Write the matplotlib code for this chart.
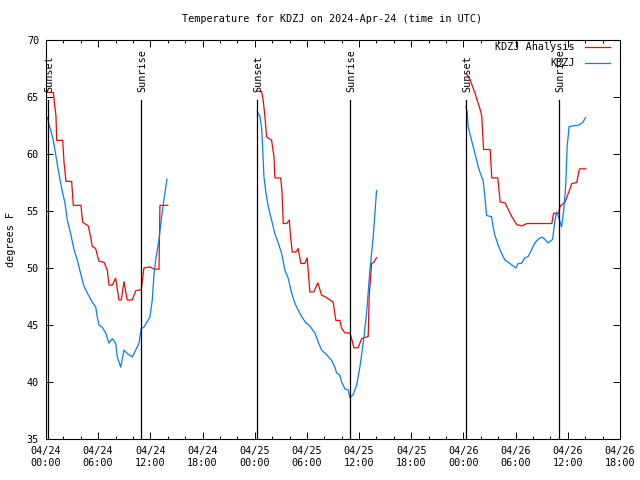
import matplotlib
matplotlib.use("Agg")
import matplotlib.pyplot as plt

plt.rcParams['font.family'] = ['DejaVu Sans Mono']
FS = 7.3

# ---- data (x in hours since 2024-04-24 00:00 UTC) ----
red_h1 = [0.15, 0.84, 1.15, 1.23, 1.92, 2.07, 2.30, 2.95, 3.14, 4.02, 4.22, 4.86, 5.14, 5.32, 5.71,
          6.09, 6.67, 7.05, 7.24, 7.62, 8.01, 8.39, 8.66, 8.97, 9.34, 9.92, 10.31, 10.95, 11.26,
          11.95, 12.41, 12.99, 13.10, 13.99]
red_t1 = [65.4, 65.4, 63.3, 61.2, 61.2, 59.3, 57.6, 57.6, 55.5, 55.5, 54.0, 53.7, 52.7, 51.9, 51.7,
          50.6, 50.5, 49.8, 48.5, 48.5, 49.1, 47.2, 47.2, 48.8, 47.2, 47.2, 48.0, 48.1, 50.0,
          50.1, 49.9, 49.9, 55.5, 55.5]
blue_h1 = [0.15, 0.84, 1.41, 1.80, 2.18, 2.45, 2.84, 3.22, 3.60, 3.99, 4.37, 4.75, 5.32, 5.71, 5.90,
           6.09, 6.47, 6.86, 7.24, 7.62, 8.01, 8.20, 8.59, 8.97, 9.34, 9.92, 10.31, 10.69, 10.95,
           11.26, 11.95, 12.22, 12.41, 12.61, 12.99, 13.25, 13.56, 13.91]
blue_t1 = [63.2, 61.2, 58.6, 57.0, 55.7, 54.2, 53.0, 51.6, 50.7, 49.5, 48.4, 47.8, 47.0, 46.6, 45.7,
           45.0, 44.8, 44.3, 43.4, 43.8, 43.4, 42.2, 41.3, 42.8, 42.5, 42.2, 42.8, 43.4, 44.7,
           44.8, 45.7, 47.2, 49.4, 50.7, 52.5, 54.2, 56.0, 57.8]

red_h2 = [24.29, 24.79, 24.98, 25.17, 25.37, 25.94, 26.21, 26.32, 26.98, 27.13, 27.28, 27.67, 27.97,
          28.13, 28.31, 28.74, 29.00, 29.31, 29.77, 30.03, 30.34, 30.80, 31.26, 31.69, 32.07, 32.64,
          33.02, 33.33, 33.79, 33.99, 34.37, 34.94, 35.14, 35.40, 35.90, 36.29, 37.05, 37.16, 37.44,
          37.70, 38.01]
red_t2 = [65.5, 65.5, 64.7, 63.3, 61.5, 61.2, 59.8, 57.9, 57.9, 56.8, 53.9, 53.9, 54.2,
          52.7, 51.4, 51.4, 51.7, 50.4, 50.4, 50.9, 47.9, 47.9, 48.7, 47.6, 47.5, 47.2,
          47.0, 45.4, 45.4, 44.7, 44.3, 44.3, 43.8, 43.0, 43.0, 43.8, 44.0, 47.5, 50.4,
          50.5, 50.9]
blue_h2 = [24.29, 24.60, 24.79, 24.91, 25.06, 25.29, 25.55, 25.94, 26.32, 26.70, 27.09, 27.47, 27.85,
           28.24, 28.62, 29.20, 29.77, 30.34, 30.92, 31.30, 31.69, 32.26, 32.84, 33.22, 33.41, 33.79,
           33.99, 34.37, 34.75, 34.94, 35.32, 35.71, 36.09, 36.47, 36.86, 37.24, 37.62, 38.01]
blue_t2 = [63.7, 63.3, 62.3, 60.6, 58.0, 56.6, 55.4, 54.2, 53.0, 52.2, 51.3, 49.8, 49.1,
           47.8, 46.9, 46.0, 45.3, 44.9, 44.3, 43.5, 42.8, 42.4, 41.9, 41.3, 40.8, 40.6,
           40.0, 39.4, 39.3, 38.6, 38.9, 39.7, 41.3, 43.4, 46.0, 49.8, 52.7, 56.8]

red_h3 = [48.39, 48.77, 49.34, 49.92, 50.11, 50.31, 51.07, 51.26, 51.95, 52.22, 52.79, 53.56, 54.14,
          54.71, 55.29, 57.21, 58.16, 58.36, 58.93, 59.11, 59.69, 60.08, 60.46, 61.03, 61.30, 61.41,
          62.07]
red_t3 = [67.0, 66.5, 65.3, 63.9, 63.3, 60.4, 60.4, 57.9, 57.9, 55.8, 55.7, 54.5, 53.8,
          53.7, 53.9, 53.9, 53.9, 54.8, 54.8, 55.4, 55.8, 56.6, 57.4, 57.5, 58.6, 58.7,
          58.7]
blue_h3 = [48.28, 48.43, 48.54, 48.93, 49.31, 49.69, 50.08, 50.26, 50.46, 50.66, 51.23, 51.41, 51.61,
           51.99, 52.38, 52.76, 53.33, 54.02, 54.29, 54.68, 55.06, 55.44, 55.83, 56.21, 56.70, 57.09,
           57.36, 57.74, 58.24, 58.51, 58.70, 58.89, 59.08, 59.28, 59.54, 59.77, 59.92, 60.15, 60.80,
           61.18, 61.57, 61.76, 62.03]
blue_t3 = [64.2, 63.7, 62.4, 61.2, 60.1, 58.9, 58.0, 57.7, 56.3, 54.6, 54.5, 53.6, 52.9,
           52.0, 51.3, 50.7, 50.4, 50.0, 50.4, 50.4, 50.9, 51.0, 51.6, 52.2, 52.6, 52.7,
           52.5, 52.2, 52.5, 54.1, 54.9, 54.6, 54.1, 53.6, 55.1, 57.4, 60.6, 62.4, 62.5,
           62.5, 62.7, 62.8, 63.2]

sun_labels = ["Sunset", "Sunrise", "Sunset", "Sunrise", "Sunset", "Sunrise"]
sun_hours = [0.22, 10.92, 24.25, 34.92, 48.27, 58.95]

tick_hours = [0, 6, 12, 18, 24, 30, 36, 42, 48, 54, 60, 66]
tick_labels = ["04/24\n00:00", "04/24\n06:00", "04/24\n12:00", "04/24\n18:00",
               "04/25\n00:00", "04/25\n06:00", "04/25\n12:00", "04/25\n18:00",
               "04/26\n00:00", "04/26\n06:00", "04/26\n12:00", "04/26\n18:00"]
y_ticks = [35, 40, 45, 50, 55, 60, 65, 70]

RED = "#ff0000"
BLUE = "#0080ff"

fig = plt.figure(figsize=(6.4, 4.8), dpi=100)
ax = fig.add_axes([46 / 640, 1 - 439 / 480, 574 / 640, 399 / 480])

for h, t in [(red_h1, red_t1), (red_h2, red_t2), (red_h3, red_t3)]:
    ax.plot(h, t, color=RED, lw=0.9)
for h, t in [(blue_h1, blue_t1), (blue_h2, blue_t2), (blue_h3, blue_t3)]:
    ax.plot(h, t, color=BLUE, lw=0.9)

for lab, h in zip(sun_labels, sun_hours):
    ax.plot([h, h], [35, 64.75], color="black", lw=0.9)
    ax.text(h + 0.15, 65.45, lab, rotation=90, ha="center", va="bottom", fontsize=FS)

ax.set_xlim(0, 66)
ax.set_ylim(35, 70)
ax.set_xticks(tick_hours)
ax.set_xticklabels(tick_labels)
ax.set_xticks([h for h in range(0, 67, 2) if h % 6], minor=True)
ax.set_yticks(y_ticks)
ax.tick_params(axis="both", which="both", direction="in", top=True, right=True,
               labelsize=FS, width=0.7, color="black")
ax.tick_params(axis="both", which="major", length=5, pad=5)
ax.tick_params(axis="both", which="minor", length=2.5)
for s in ax.spines.values():
    s.set_linewidth(0.8)

ax.set_ylabel("degrees F", fontsize=FS, labelpad=8)
fig.text(332 / 640, 1 - 19 / 480, "Temperature for KDZJ on 2024-Apr-24 (time in UTC)",
         ha="center", va="center", fontsize=FS)

# legend (manual, right-aligned like gnuplot)
for i, (lab, col) in enumerate([("KDZJ Analysis", RED), ("KDZJ", BLUE)]):
    yy = 1 - (7 + 16 * i) / 399
    ax.text(0.9216, yy, lab, transform=ax.transAxes, ha="right", va="center", fontsize=FS)
    ax.plot([0.939, 0.9826], [yy, yy], transform=ax.transAxes, color=col, lw=0.9, clip_on=False)

fig.savefig("out.png", dpi=100)
